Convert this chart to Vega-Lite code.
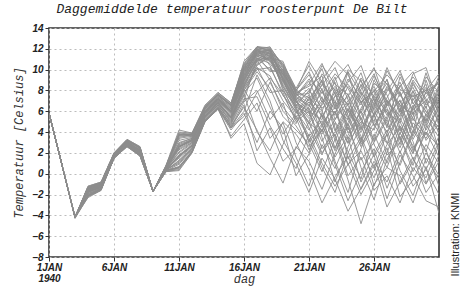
{
"$schema":"https://vega.github.io/schema/vega-lite/v6.json",
"width":390,"height":229,
"autosize":{"type":"none"},
"padding":{"left":49,"top":28,"right":21,"bottom":29},
"background":"white",
"title":{"text":"Daggemiddelde temperatuur roosterpunt De Bilt","font":"Liberation Mono","fontStyle":"italic","fontWeight":"normal","fontSize":13,"color":"#222","offset":7,"anchor":"middle","dx":-12},
"config":{"view":{"stroke":"#333","strokeWidth":1.6}},
"data":{"values":[
{"m":1,"d":1,"t":5.8},{"m":1,"d":2,"t":0.8},{"m":1,"d":3,"t":-4.2},{"m":1,"d":4,"t":-1.4},{"m":1,"d":5,"t":-1.0},{"m":1,"d":6,"t":1.8},{"m":1,"d":7,"t":3.1},{"m":1,"d":8,"t":2.2},{"m":1,"d":9,"t":-1.7},{"m":1,"d":10,"t":0.5},{"m":1,"d":11,"t":2.1},{"m":1,"d":12,"t":3.0},{"m":1,"d":13,"t":5.8},{"m":1,"d":14,"t":7.2},{"m":1,"d":15,"t":6.0},{"m":1,"d":16,"t":9.5},{"m":1,"d":17,"t":11.8},{"m":1,"d":18,"t":11.5},{"m":1,"d":19,"t":9.2},{"m":1,"d":20,"t":7.0},{"m":1,"d":21,"t":5.5},{"m":1,"d":22,"t":8.2},{"m":1,"d":23,"t":4.1},{"m":1,"d":24,"t":6.8},{"m":1,"d":25,"t":3.2},{"m":1,"d":26,"t":7.5},{"m":1,"d":27,"t":5.9},{"m":1,"d":28,"t":2.8},{"m":1,"d":29,"t":6.4},{"m":1,"d":30,"t":8.1},{"m":1,"d":31,"t":5.2},
{"m":2,"d":1,"t":5.8},{"m":2,"d":2,"t":0.8},{"m":2,"d":3,"t":-4.2},{"m":2,"d":4,"t":-1.8},{"m":2,"d":5,"t":-1.2},{"m":2,"d":6,"t":1.6},{"m":2,"d":7,"t":2.8},{"m":2,"d":8,"t":2.0},{"m":2,"d":9,"t":-1.7},{"m":2,"d":10,"t":0.4},{"m":2,"d":11,"t":1.2},{"m":2,"d":12,"t":2.5},{"m":2,"d":13,"t":5.4},{"m":2,"d":14,"t":6.8},{"m":2,"d":15,"t":5.6},{"m":2,"d":16,"t":8.8},{"m":2,"d":17,"t":11.2},{"m":2,"d":18,"t":12.0},{"m":2,"d":19,"t":9.8},{"m":2,"d":20,"t":7.4},{"m":2,"d":21,"t":8.9},{"m":2,"d":22,"t":6.1},{"m":2,"d":23,"t":2.5},{"m":2,"d":24,"t":4.9},{"m":2,"d":25,"t":7.8},{"m":2,"d":26,"t":6.2},{"m":2,"d":27,"t":9.1},{"m":2,"d":28,"t":4.4},{"m":2,"d":29,"t":1.9},{"m":2,"d":30,"t":5.8},{"m":2,"d":31,"t":7.5},
{"m":3,"d":1,"t":5.8},{"m":3,"d":2,"t":0.8},{"m":3,"d":3,"t":-4.1},{"m":3,"d":4,"t":-1.3},{"m":3,"d":5,"t":-0.9},{"m":3,"d":6,"t":1.9},{"m":3,"d":7,"t":3.2},{"m":3,"d":8,"t":2.4},{"m":3,"d":9,"t":-1.7},{"m":3,"d":10,"t":0.7},{"m":3,"d":11,"t":3.8},{"m":3,"d":12,"t":3.6},{"m":3,"d":13,"t":6.2},{"m":3,"d":14,"t":7.6},{"m":3,"d":15,"t":6.5},{"m":3,"d":16,"t":10.2},{"m":3,"d":17,"t":12.1},{"m":3,"d":18,"t":11.8},{"m":3,"d":19,"t":10.1},{"m":3,"d":20,"t":7.8},{"m":3,"d":21,"t":6.2},{"m":3,"d":22,"t":4.0},{"m":3,"d":23,"t":7.5},{"m":3,"d":24,"t":9.8},{"m":3,"d":25,"t":5.1},{"m":3,"d":26,"t":3.3},{"m":3,"d":27,"t":6.8},{"m":3,"d":28,"t":7.9},{"m":3,"d":29,"t":4.5},{"m":3,"d":30,"t":2.1},{"m":3,"d":31,"t":6.0},
{"m":4,"d":1,"t":5.8},{"m":4,"d":2,"t":0.8},{"m":4,"d":3,"t":-4.3},{"m":4,"d":4,"t":-2.2},{"m":4,"d":5,"t":-1.5},{"m":4,"d":6,"t":1.5},{"m":4,"d":7,"t":2.6},{"m":4,"d":8,"t":1.8},{"m":4,"d":9,"t":-1.7},{"m":4,"d":10,"t":0.3},{"m":4,"d":11,"t":0.6},{"m":4,"d":12,"t":2.1},{"m":4,"d":13,"t":5.1},{"m":4,"d":14,"t":6.4},{"m":4,"d":15,"t":4.8},{"m":4,"d":16,"t":7.5},{"m":4,"d":17,"t":10.5},{"m":4,"d":18,"t":11.2},{"m":4,"d":19,"t":8.6},{"m":4,"d":20,"t":6.3},{"m":4,"d":21,"t":3.1},{"m":4,"d":22,"t":5.7},{"m":4,"d":23,"t":1.2},{"m":4,"d":24,"t":-1.8},{"m":4,"d":25,"t":2.4},{"m":4,"d":26,"t":5.6},{"m":4,"d":27,"t":3.0},{"m":4,"d":28,"t":0.8},{"m":4,"d":29,"t":3.9},{"m":4,"d":30,"t":6.5},{"m":4,"d":31,"t":2.2},
{"m":5,"d":1,"t":5.8},{"m":5,"d":2,"t":0.8},{"m":5,"d":3,"t":-4.2},{"m":5,"d":4,"t":-1.6},{"m":5,"d":5,"t":-1.1},{"m":5,"d":6,"t":1.7},{"m":5,"d":7,"t":3.0},{"m":5,"d":8,"t":2.1},{"m":5,"d":9,"t":-1.7},{"m":5,"d":10,"t":0.5},{"m":5,"d":11,"t":2.6},{"m":5,"d":12,"t":3.2},{"m":5,"d":13,"t":5.9},{"m":5,"d":14,"t":7.0},{"m":5,"d":15,"t":5.9},{"m":5,"d":16,"t":9.1},{"m":5,"d":17,"t":11.5},{"m":5,"d":18,"t":10.9},{"m":5,"d":19,"t":9.0},{"m":5,"d":20,"t":6.8},{"m":5,"d":21,"t":7.9},{"m":5,"d":22,"t":10.1},{"m":5,"d":23,"t":6.3},{"m":5,"d":24,"t":5.2},{"m":5,"d":25,"t":8.6},{"m":5,"d":26,"t":4.7},{"m":5,"d":27,"t":2.9},{"m":5,"d":28,"t":6.1},{"m":5,"d":29,"t":9.0},{"m":5,"d":30,"t":7.2},{"m":5,"d":31,"t":3.8},
{"m":6,"d":1,"t":5.8},{"m":6,"d":2,"t":0.8},{"m":6,"d":3,"t":-4.2},{"m":6,"d":4,"t":-2.0},{"m":6,"d":5,"t":-1.4},{"m":6,"d":6,"t":1.6},{"m":6,"d":7,"t":2.7},{"m":6,"d":8,"t":1.9},{"m":6,"d":9,"t":-1.7},{"m":6,"d":10,"t":0.2},{"m":6,"d":11,"t":0.4},{"m":6,"d":12,"t":2.0},{"m":6,"d":13,"t":5.0},{"m":6,"d":14,"t":6.2},{"m":6,"d":15,"t":3.6},{"m":6,"d":16,"t":5.2},{"m":6,"d":17,"t":6.8},{"m":6,"d":18,"t":3.4},{"m":6,"d":19,"t":4.9},{"m":6,"d":20,"t":1.6},{"m":6,"d":21,"t":-1.2},{"m":6,"d":22,"t":2.8},{"m":6,"d":23,"t":0.5},{"m":6,"d":24,"t":3.5},{"m":6,"d":25,"t":-0.8},{"m":6,"d":26,"t":1.9},{"m":6,"d":27,"t":4.2},{"m":6,"d":28,"t":0.3},{"m":6,"d":29,"t":-2.1},{"m":6,"d":30,"t":1.5},{"m":6,"d":31,"t":-0.5},
{"m":7,"d":1,"t":5.8},{"m":7,"d":2,"t":0.8},{"m":7,"d":3,"t":-4.2},{"m":7,"d":4,"t":-1.2},{"m":7,"d":5,"t":-0.8},{"m":7,"d":6,"t":2.0},{"m":7,"d":7,"t":3.3},{"m":7,"d":8,"t":2.6},{"m":7,"d":9,"t":-1.7},{"m":7,"d":10,"t":0.8},{"m":7,"d":11,"t":4.2},{"m":7,"d":12,"t":3.9},{"m":7,"d":13,"t":6.5},{"m":7,"d":14,"t":7.8},{"m":7,"d":15,"t":6.8},{"m":7,"d":16,"t":10.5},{"m":7,"d":17,"t":12.2},{"m":7,"d":18,"t":12.1},{"m":7,"d":19,"t":10.4},{"m":7,"d":20,"t":8.0},{"m":7,"d":21,"t":9.5},{"m":7,"d":22,"t":7.2},{"m":7,"d":23,"t":5.8},{"m":7,"d":24,"t":8.4},{"m":7,"d":25,"t":6.6},{"m":7,"d":26,"t":9.4},{"m":7,"d":27,"t":7.0},{"m":7,"d":28,"t":5.5},{"m":7,"d":29,"t":8.8},{"m":7,"d":30,"t":6.3},{"m":7,"d":31,"t":9.4},
{"m":8,"d":1,"t":5.8},{"m":8,"d":2,"t":0.8},{"m":8,"d":3,"t":-4.2},{"m":8,"d":4,"t":-1.7},{"m":8,"d":5,"t":-1.3},{"m":8,"d":6,"t":1.8},{"m":8,"d":7,"t":2.9},{"m":8,"d":8,"t":2.3},{"m":8,"d":9,"t":-1.7},{"m":8,"d":10,"t":0.6},{"m":8,"d":11,"t":1.8},{"m":8,"d":12,"t":2.8},{"m":8,"d":13,"t":5.6},{"m":8,"d":14,"t":6.9},{"m":8,"d":15,"t":5.4},{"m":8,"d":16,"t":8.4},{"m":8,"d":17,"t":10.8},{"m":8,"d":18,"t":11.4},{"m":8,"d":19,"t":9.5},{"m":8,"d":20,"t":7.2},{"m":8,"d":21,"t":4.4},{"m":8,"d":22,"t":1.8},{"m":8,"d":23,"t":4.9},{"m":8,"d":24,"t":2.1},{"m":8,"d":25,"t":-0.5},{"m":8,"d":26,"t":3.8},{"m":8,"d":27,"t":1.0},{"m":8,"d":28,"t":4.6},{"m":8,"d":29,"t":2.7},{"m":8,"d":30,"t":0.4},{"m":8,"d":31,"t":3.1},
{"m":9,"d":1,"t":5.8},{"m":9,"d":2,"t":0.8},{"m":9,"d":3,"t":-4.1},{"m":9,"d":4,"t":-1.5},{"m":9,"d":5,"t":-1.1},{"m":9,"d":6,"t":1.7},{"m":9,"d":7,"t":3.1},{"m":9,"d":8,"t":2.2},{"m":9,"d":9,"t":-1.7},{"m":9,"d":10,"t":0.5},{"m":9,"d":11,"t":2.9},{"m":9,"d":12,"t":3.4},{"m":9,"d":13,"t":6.0},{"m":9,"d":14,"t":7.3},{"m":9,"d":15,"t":6.2},{"m":9,"d":16,"t":9.8},{"m":9,"d":17,"t":11.9},{"m":9,"d":18,"t":11.6},{"m":9,"d":19,"t":9.9},{"m":9,"d":20,"t":7.6},{"m":9,"d":21,"t":6.8},{"m":9,"d":22,"t":8.5},{"m":9,"d":23,"t":10.2},{"m":9,"d":24,"t":7.1},{"m":9,"d":25,"t":4.3},{"m":9,"d":26,"t":6.9},{"m":9,"d":27,"t":8.7},{"m":9,"d":28,"t":5.9},{"m":9,"d":29,"t":7.6},{"m":9,"d":30,"t":4.8},{"m":9,"d":31,"t":8.3},
{"m":10,"d":1,"t":5.8},{"m":10,"d":2,"t":0.8},{"m":10,"d":3,"t":-4.2},{"m":10,"d":4,"t":-1.9},{"m":10,"d":5,"t":-1.5},{"m":10,"d":6,"t":1.5},{"m":10,"d":7,"t":2.7},{"m":10,"d":8,"t":1.7},{"m":10,"d":9,"t":-1.7},{"m":10,"d":10,"t":0.3},{"m":10,"d":11,"t":0.9},{"m":10,"d":12,"t":2.3},{"m":10,"d":13,"t":5.2},{"m":10,"d":14,"t":6.5},{"m":10,"d":15,"t":4.6},{"m":10,"d":16,"t":6.4},{"m":10,"d":17,"t":4.2},{"m":10,"d":18,"t":1.5},{"m":10,"d":19,"t":-0.9},{"m":10,"d":20,"t":2.6},{"m":10,"d":21,"t":1.2},{"m":10,"d":22,"t":-1.5},{"m":10,"d":23,"t":1.9},{"m":10,"d":24,"t":4.8},{"m":10,"d":25,"t":0.6},{"m":10,"d":26,"t":-2.5},{"m":10,"d":27,"t":1.4},{"m":10,"d":28,"t":3.6},{"m":10,"d":29,"t":0.2},{"m":10,"d":30,"t":2.8},{"m":10,"d":31,"t":1.0},
{"m":11,"d":1,"t":5.8},{"m":11,"d":2,"t":0.8},{"m":11,"d":3,"t":-4.2},{"m":11,"d":4,"t":-1.4},{"m":11,"d":5,"t":-1.0},{"m":11,"d":6,"t":1.8},{"m":11,"d":7,"t":3.0},{"m":11,"d":8,"t":2.3},{"m":11,"d":9,"t":-1.7},{"m":11,"d":10,"t":0.6},{"m":11,"d":11,"t":3.2},{"m":11,"d":12,"t":3.5},{"m":11,"d":13,"t":6.1},{"m":11,"d":14,"t":7.4},{"m":11,"d":15,"t":6.3},{"m":11,"d":16,"t":10.0},{"m":11,"d":17,"t":11.7},{"m":11,"d":18,"t":11.9},{"m":11,"d":19,"t":9.4},{"m":11,"d":20,"t":7.1},{"m":11,"d":21,"t":8.2},{"m":11,"d":22,"t":5.4},{"m":11,"d":23,"t":7.9},{"m":11,"d":24,"t":3.9},{"m":11,"d":25,"t":6.1},{"m":11,"d":26,"t":8.0},{"m":11,"d":27,"t":4.4},{"m":11,"d":28,"t":9.3},{"m":11,"d":29,"t":6.8},{"m":11,"d":30,"t":5.0},{"m":11,"d":31,"t":7.0},
{"m":12,"d":1,"t":5.8},{"m":12,"d":2,"t":0.8},{"m":12,"d":3,"t":-4.2},{"m":12,"d":4,"t":-2.1},{"m":12,"d":5,"t":-1.6},{"m":12,"d":6,"t":1.6},{"m":12,"d":7,"t":2.8},{"m":12,"d":8,"t":1.9},{"m":12,"d":9,"t":-1.7},{"m":12,"d":10,"t":0.4},{"m":12,"d":11,"t":1.5},{"m":12,"d":12,"t":2.6},{"m":12,"d":13,"t":5.5},{"m":12,"d":14,"t":6.7},{"m":12,"d":15,"t":5.2},{"m":12,"d":16,"t":8.2},{"m":12,"d":17,"t":10.2},{"m":12,"d":18,"t":9.4},{"m":12,"d":19,"t":7.0},{"m":12,"d":20,"t":5.4},{"m":12,"d":21,"t":2.3},{"m":12,"d":22,"t":4.6},{"m":12,"d":23,"t":6.9},{"m":12,"d":24,"t":1.4},{"m":12,"d":25,"t":3.5},{"m":12,"d":26,"t":-1.2},{"m":12,"d":27,"t":2.0},{"m":12,"d":28,"t":5.3},{"m":12,"d":29,"t":3.1},{"m":12,"d":30,"t":-0.9},{"m":12,"d":31,"t":1.8},
{"m":13,"d":1,"t":5.8},{"m":13,"d":2,"t":0.8},{"m":13,"d":3,"t":-4.2},{"m":13,"d":4,"t":-1.3},{"m":13,"d":5,"t":-0.9},{"m":13,"d":6,"t":1.9},{"m":13,"d":7,"t":3.2},{"m":13,"d":8,"t":2.5},{"m":13,"d":9,"t":-1.7},{"m":13,"d":10,"t":0.7},{"m":13,"d":11,"t":3.6},{"m":13,"d":12,"t":3.7},{"m":13,"d":13,"t":6.3},{"m":13,"d":14,"t":7.5},{"m":13,"d":15,"t":6.6},{"m":13,"d":16,"t":10.3},{"m":13,"d":17,"t":12.0},{"m":13,"d":18,"t":11.7},{"m":13,"d":19,"t":10.6},{"m":13,"d":20,"t":8.2},{"m":13,"d":21,"t":10.4},{"m":13,"d":22,"t":8.0},{"m":13,"d":23,"t":6.2},{"m":13,"d":24,"t":9.1},{"m":13,"d":25,"t":7.3},{"m":13,"d":26,"t":5.0},{"m":13,"d":27,"t":8.2},{"m":13,"d":28,"t":6.6},{"m":13,"d":29,"t":4.0},{"m":13,"d":30,"t":9.0},{"m":13,"d":31,"t":5.6},
{"m":14,"d":1,"t":5.8},{"m":14,"d":2,"t":0.8},{"m":14,"d":3,"t":-4.2},{"m":14,"d":4,"t":-1.6},{"m":14,"d":5,"t":-1.2},{"m":14,"d":6,"t":1.7},{"m":14,"d":7,"t":2.9},{"m":14,"d":8,"t":2.1},{"m":14,"d":9,"t":-1.7},{"m":14,"d":10,"t":0.5},{"m":14,"d":11,"t":2.4},{"m":14,"d":12,"t":3.1},{"m":14,"d":13,"t":5.7},{"m":14,"d":14,"t":7.1},{"m":14,"d":15,"t":5.8},{"m":14,"d":16,"t":9.0},{"m":14,"d":17,"t":11.3},{"m":14,"d":18,"t":10.8},{"m":14,"d":19,"t":8.8},{"m":14,"d":20,"t":6.6},{"m":14,"d":21,"t":5.0},{"m":14,"d":22,"t":7.4},{"m":14,"d":23,"t":3.2},{"m":14,"d":24,"t":5.9},{"m":14,"d":25,"t":9.2},{"m":14,"d":26,"t":7.4},{"m":14,"d":27,"t":4.8},{"m":14,"d":28,"t":2.5},{"m":14,"d":29,"t":5.5},{"m":14,"d":30,"t":7.8},{"m":14,"d":31,"t":6.6},
{"m":15,"d":1,"t":5.8},{"m":15,"d":2,"t":0.8},{"m":15,"d":3,"t":-4.2},{"m":15,"d":4,"t":-1.8},{"m":15,"d":5,"t":-1.3},{"m":15,"d":6,"t":1.6},{"m":15,"d":7,"t":2.8},{"m":15,"d":8,"t":2.0},{"m":15,"d":9,"t":-1.7},{"m":15,"d":10,"t":0.4},{"m":15,"d":11,"t":1.0},{"m":15,"d":12,"t":2.4},{"m":15,"d":13,"t":5.3},{"m":15,"d":14,"t":6.6},{"m":15,"d":15,"t":4.9},{"m":15,"d":16,"t":7.8},{"m":15,"d":17,"t":9.2},{"m":15,"d":18,"t":6.4},{"m":15,"d":19,"t":3.8},{"m":15,"d":20,"t":5.8},{"m":15,"d":21,"t":7.6},{"m":15,"d":22,"t":3.5},{"m":15,"d":23,"t":-0.8},{"m":15,"d":24,"t":2.6},{"m":15,"d":25,"t":5.4},{"m":15,"d":26,"t":1.8},{"m":15,"d":27,"t":-2.4},{"m":15,"d":28,"t":1.1},{"m":15,"d":29,"t":4.1},{"m":15,"d":30,"t":2.3},{"m":15,"d":31,"t":-1.2},
{"m":16,"d":1,"t":5.8},{"m":16,"d":2,"t":0.8},{"m":16,"d":3,"t":-4.2},{"m":16,"d":4,"t":-1.5},{"m":16,"d":5,"t":-1.1},{"m":16,"d":6,"t":1.8},{"m":16,"d":7,"t":3.0},{"m":16,"d":8,"t":2.2},{"m":16,"d":9,"t":-1.7},{"m":16,"d":10,"t":0.6},{"m":16,"d":11,"t":2.7},{"m":16,"d":12,"t":3.3},{"m":16,"d":13,"t":5.9},{"m":16,"d":14,"t":7.2},{"m":16,"d":15,"t":6.1},{"m":16,"d":16,"t":9.6},{"m":16,"d":17,"t":11.6},{"m":16,"d":18,"t":11.3},{"m":16,"d":19,"t":9.7},{"m":16,"d":20,"t":7.3},{"m":16,"d":21,"t":6.5},{"m":16,"d":22,"t":9.6},{"m":16,"d":23,"t":8.0},{"m":16,"d":24,"t":6.0},{"m":16,"d":25,"t":4.0},{"m":16,"d":26,"t":6.4},{"m":16,"d":27,"t":9.9},{"m":16,"d":28,"t":7.7},{"m":16,"d":29,"t":5.3},{"m":16,"d":30,"t":3.7},{"m":16,"d":31,"t":6.8},
{"m":17,"d":1,"t":5.8},{"m":17,"d":2,"t":0.8},{"m":17,"d":3,"t":-4.2},{"m":17,"d":4,"t":-2.3},{"m":17,"d":5,"t":-1.6},{"m":17,"d":6,"t":1.5},{"m":17,"d":7,"t":2.6},{"m":17,"d":8,"t":1.7},{"m":17,"d":9,"t":-1.7},{"m":17,"d":10,"t":0.2},{"m":17,"d":11,"t":0.3},{"m":17,"d":12,"t":2.0},{"m":17,"d":13,"t":5.0},{"m":17,"d":14,"t":6.3},{"m":17,"d":15,"t":4.5},{"m":17,"d":16,"t":6.9},{"m":17,"d":17,"t":8.0},{"m":17,"d":18,"t":5.2},{"m":17,"d":19,"t":6.8},{"m":17,"d":20,"t":3.0},{"m":17,"d":21,"t":0.4},{"m":17,"d":22,"t":-2.8},{"m":17,"d":23,"t":-0.3},{"m":17,"d":24,"t":1.7},{"m":17,"d":25,"t":-1.5},{"m":17,"d":26,"t":0.9},{"m":17,"d":27,"t":-3.2},{"m":17,"d":28,"t":-0.8},{"m":17,"d":29,"t":1.6},{"m":17,"d":30,"t":-1.8},{"m":17,"d":31,"t":0.0},
{"m":18,"d":1,"t":5.8},{"m":18,"d":2,"t":0.8},{"m":18,"d":3,"t":-4.2},{"m":18,"d":4,"t":-1.4},{"m":18,"d":5,"t":-1.0},{"m":18,"d":6,"t":1.9},{"m":18,"d":7,"t":3.1},{"m":18,"d":8,"t":2.4},{"m":18,"d":9,"t":-1.7},{"m":18,"d":10,"t":0.6},{"m":18,"d":11,"t":3.4},{"m":18,"d":12,"t":3.6},{"m":18,"d":13,"t":6.2},{"m":18,"d":14,"t":7.4},{"m":18,"d":15,"t":6.4},{"m":18,"d":16,"t":10.1},{"m":18,"d":17,"t":11.9},{"m":18,"d":18,"t":12.2},{"m":18,"d":19,"t":10.2},{"m":18,"d":20,"t":7.9},{"m":18,"d":21,"t":7.3},{"m":18,"d":22,"t":6.0},{"m":18,"d":23,"t":9.0},{"m":18,"d":24,"t":10.5},{"m":18,"d":25,"t":7.9},{"m":18,"d":26,"t":5.7},{"m":18,"d":27,"t":7.3},{"m":18,"d":28,"t":9.6},{"m":18,"d":29,"t":7.1},{"m":18,"d":30,"t":8.6},{"m":18,"d":31,"t":4.6},
{"m":19,"d":1,"t":5.8},{"m":19,"d":2,"t":0.8},{"m":19,"d":3,"t":-4.2},{"m":19,"d":4,"t":-1.7},{"m":19,"d":5,"t":-1.2},{"m":19,"d":6,"t":1.7},{"m":19,"d":7,"t":2.9},{"m":19,"d":8,"t":2.1},{"m":19,"d":9,"t":-1.7},{"m":19,"d":10,"t":0.5},{"m":19,"d":11,"t":2.0},{"m":19,"d":12,"t":2.9},{"m":19,"d":13,"t":5.6},{"m":19,"d":14,"t":6.9},{"m":19,"d":15,"t":5.5},{"m":19,"d":16,"t":8.6},{"m":19,"d":17,"t":11.0},{"m":19,"d":18,"t":11.1},{"m":19,"d":19,"t":9.1},{"m":19,"d":20,"t":6.9},{"m":19,"d":21,"t":5.9},{"m":19,"d":22,"t":3.1},{"m":19,"d":23,"t":5.2},{"m":19,"d":24,"t":7.7},{"m":19,"d":25,"t":2.8},{"m":19,"d":26,"t":4.9},{"m":19,"d":27,"t":6.2},{"m":19,"d":28,"t":3.4},{"m":19,"d":29,"t":0.8},{"m":19,"d":30,"t":4.4},{"m":19,"d":31,"t":8.0},
{"m":20,"d":1,"t":5.8},{"m":20,"d":2,"t":0.8},{"m":20,"d":3,"t":-4.2},{"m":20,"d":4,"t":-1.9},{"m":20,"d":5,"t":-1.4},{"m":20,"d":6,"t":1.6},{"m":20,"d":7,"t":2.7},{"m":20,"d":8,"t":1.9},{"m":20,"d":9,"t":-1.7},{"m":20,"d":10,"t":0.3},{"m":20,"d":11,"t":1.3},{"m":20,"d":12,"t":2.5},{"m":20,"d":13,"t":5.3},{"m":20,"d":14,"t":6.6},{"m":20,"d":15,"t":5.0},{"m":20,"d":16,"t":8.0},{"m":20,"d":17,"t":9.8},{"m":20,"d":18,"t":8.2},{"m":20,"d":19,"t":5.5},{"m":20,"d":20,"t":4.2},{"m":20,"d":21,"t":2.9},{"m":20,"d":22,"t":0.2},{"m":20,"d":23,"t":3.3},{"m":20,"d":24,"t":-0.6},{"m":20,"d":25,"t":-4.8},{"m":20,"d":26,"t":-1.0},{"m":20,"d":27,"t":0.6},{"m":20,"d":28,"t":-0.2},{"m":20,"d":29,"t":-2.8},{"m":20,"d":30,"t":0.7},{"m":20,"d":31,"t":-3.8},
{"m":21,"d":1,"t":5.8},{"m":21,"d":2,"t":0.8},{"m":21,"d":3,"t":-4.2},{"m":21,"d":4,"t":-1.3},{"m":21,"d":5,"t":-0.9},{"m":21,"d":6,"t":1.9},{"m":21,"d":7,"t":3.2},{"m":21,"d":8,"t":2.5},{"m":21,"d":9,"t":-1.7},{"m":21,"d":10,"t":0.7},{"m":21,"d":11,"t":3.9},{"m":21,"d":12,"t":3.8},{"m":21,"d":13,"t":6.4},{"m":21,"d":14,"t":7.7},{"m":21,"d":15,"t":6.7},{"m":21,"d":16,"t":10.4},{"m":21,"d":17,"t":12.1},{"m":21,"d":18,"t":11.9},{"m":21,"d":19,"t":10.3},{"m":21,"d":20,"t":7.7},{"m":21,"d":21,"t":8.6},{"m":21,"d":22,"t":10.6},{"m":21,"d":23,"t":7.6},{"m":21,"d":24,"t":5.4},{"m":21,"d":25,"t":8.1},{"m":21,"d":26,"t":10.2},{"m":21,"d":27,"t":6.5},{"m":21,"d":28,"t":8.4},{"m":21,"d":29,"t":9.8},{"m":21,"d":30,"t":6.9},{"m":21,"d":31,"t":9.0},
{"m":22,"d":1,"t":5.8},{"m":22,"d":2,"t":0.8},{"m":22,"d":3,"t":-4.2},{"m":22,"d":4,"t":-1.6},{"m":22,"d":5,"t":-1.1},{"m":22,"d":6,"t":1.8},{"m":22,"d":7,"t":3.0},{"m":22,"d":8,"t":2.2},{"m":22,"d":9,"t":-1.7},{"m":22,"d":10,"t":0.5},{"m":22,"d":11,"t":2.5},{"m":22,"d":12,"t":3.2},{"m":22,"d":13,"t":5.8},{"m":22,"d":14,"t":7.1},{"m":22,"d":15,"t":5.9},{"m":22,"d":16,"t":9.3},{"m":22,"d":17,"t":11.4},{"m":22,"d":18,"t":11.0},{"m":22,"d":19,"t":9.3},{"m":22,"d":20,"t":7.0},{"m":22,"d":21,"t":4.8},{"m":22,"d":22,"t":6.6},{"m":22,"d":23,"t":8.8},{"m":22,"d":24,"t":4.2},{"m":22,"d":25,"t":7.0},{"m":22,"d":26,"t":3.1},{"m":22,"d":27,"t":5.5},{"m":22,"d":28,"t":7.1},{"m":22,"d":29,"t":3.3},{"m":22,"d":30,"t":5.7},{"m":22,"d":31,"t":4.1},
{"m":23,"d":1,"t":5.8},{"m":23,"d":2,"t":0.8},{"m":23,"d":3,"t":-4.2},{"m":23,"d":4,"t":-2.0},{"m":23,"d":5,"t":-1.5},{"m":23,"d":6,"t":1.5},{"m":23,"d":7,"t":2.7},{"m":23,"d":8,"t":1.8},{"m":23,"d":9,"t":-1.7},{"m":23,"d":10,"t":0.3},{"m":23,"d":11,"t":0.7},{"m":23,"d":12,"t":2.2},{"m":23,"d":13,"t":5.1},{"m":23,"d":14,"t":6.4},{"m":23,"d":15,"t":4.7},{"m":23,"d":16,"t":7.2},{"m":23,"d":17,"t":7.4},{"m":23,"d":18,"t":4.6},{"m":23,"d":19,"t":2.4},{"m":23,"d":20,"t":0.5},{"m":23,"d":21,"t":3.8},{"m":23,"d":22,"t":1.0},{"m":23,"d":23,"t":-1.2},{"m":23,"d":24,"t":0.9},{"m":23,"d":25,"t":2.2},{"m":23,"d":26,"t":-0.4},{"m":23,"d":27,"t":2.5},{"m":23,"d":28,"t":-2.2},{"m":23,"d":29,"t":-0.6},{"m":23,"d":30,"t":2.0},{"m":23,"d":31,"t":-0.2},
{"m":24,"d":1,"t":5.8},{"m":24,"d":2,"t":0.8},{"m":24,"d":3,"t":-4.2},{"m":24,"d":4,"t":-1.5},{"m":24,"d":5,"t":-1.0},{"m":24,"d":6,"t":1.8},{"m":24,"d":7,"t":3.1},{"m":24,"d":8,"t":2.3},{"m":24,"d":9,"t":-1.7},{"m":24,"d":10,"t":0.6},{"m":24,"d":11,"t":3.0},{"m":24,"d":12,"t":3.4},{"m":24,"d":13,"t":6.0},{"m":24,"d":14,"t":7.3},{"m":24,"d":15,"t":6.2},{"m":24,"d":16,"t":9.9},{"m":24,"d":17,"t":11.8},{"m":24,"d":18,"t":11.6},{"m":24,"d":19,"t":9.6},{"m":24,"d":20,"t":7.5},{"m":24,"d":21,"t":9.1},{"m":24,"d":22,"t":7.7},{"m":24,"d":23,"t":9.6},{"m":24,"d":24,"t":8.2},{"m":24,"d":25,"t":5.8},{"m":24,"d":26,"t":8.7},{"m":24,"d":27,"t":7.6},{"m":24,"d":28,"t":4.1},{"m":24,"d":29,"t":6.2},{"m":24,"d":30,"t":9.3},{"m":24,"d":31,"t":7.8},
{"m":25,"d":1,"t":5.8},{"m":25,"d":2,"t":0.8},{"m":25,"d":3,"t":-4.2},{"m":25,"d":4,"t":-1.7},{"m":25,"d":5,"t":-1.3},{"m":25,"d":6,"t":1.7},{"m":25,"d":7,"t":2.9},{"m":25,"d":8,"t":2.1},{"m":25,"d":9,"t":-1.7},{"m":25,"d":10,"t":0.4},{"m":25,"d":11,"t":1.6},{"m":25,"d":12,"t":2.7},{"m":25,"d":13,"t":5.5},{"m":25,"d":14,"t":6.8},{"m":25,"d":15,"t":5.3},{"m":25,"d":16,"t":8.5},{"m":25,"d":17,"t":10.9},{"m":25,"d":18,"t":11.0},{"m":25,"d":19,"t":8.4},{"m":25,"d":20,"t":6.1},{"m":25,"d":21,"t":3.6},{"m":25,"d":22,"t":5.1},{"m":25,"d":23,"t":2.2},{"m":25,"d":24,"t":4.5},{"m":25,"d":25,"t":1.3},{"m":25,"d":26,"t":3.0},{"m":25,"d":27,"t":5.2},{"m":25,"d":28,"t":2.0},{"m":25,"d":29,"t":4.9},{"m":25,"d":30,"t":3.4},{"m":25,"d":31,"t":5.5},
{"m":26,"d":1,"t":5.8},{"m":26,"d":2,"t":0.8},{"m":26,"d":3,"t":-4.2},{"m":26,"d":4,"t":-1.2},{"m":26,"d":5,"t":-0.8},{"m":26,"d":6,"t":2.0},{"m":26,"d":7,"t":3.3},{"m":26,"d":8,"t":2.6},{"m":26,"d":9,"t":-1.7},{"m":26,"d":10,"t":0.8},{"m":26,"d":11,"t":4.0},{"m":26,"d":12,"t":3.9},{"m":26,"d":13,"t":6.6},{"m":26,"d":14,"t":7.8},{"m":26,"d":15,"t":6.8},{"m":26,"d":16,"t":10.6},{"m":26,"d":17,"t":12.2},{"m":26,"d":18,"t":12.0},{"m":26,"d":19,"t":10.5},{"m":26,"d":20,"t":8.1},{"m":26,"d":21,"t":7.0},{"m":26,"d":22,"t":9.0},{"m":26,"d":23,"t":10.8},{"m":26,"d":24,"t":9.5},{"m":26,"d":25,"t":6.9},{"m":26,"d":26,"t":7.9},{"m":26,"d":27,"t":9.5},{"m":26,"d":28,"t":8.1},{"m":26,"d":29,"t":7.4},{"m":26,"d":30,"t":8.0},{"m":26,"d":31,"t":9.6},
{"m":27,"d":1,"t":5.8},{"m":27,"d":2,"t":0.8},{"m":27,"d":3,"t":-4.2},{"m":27,"d":4,"t":-1.8},{"m":27,"d":5,"t":-1.4},{"m":27,"d":6,"t":1.6},{"m":27,"d":7,"t":2.8},{"m":27,"d":8,"t":2.0},{"m":27,"d":9,"t":-1.7},{"m":27,"d":10,"t":0.4},{"m":27,"d":11,"t":1.1},{"m":27,"d":12,"t":2.4},{"m":27,"d":13,"t":5.4},{"m":27,"d":14,"t":6.6},{"m":27,"d":15,"t":5.1},{"m":27,"d":16,"t":8.3},{"m":27,"d":17,"t":10.0},{"m":27,"d":18,"t":10.2},{"m":27,"d":19,"t":7.8},{"m":27,"d":20,"t":5.0},{"m":27,"d":21,"t":6.0},{"m":27,"d":22,"t":2.4},{"m":27,"d":23,"t":4.0},{"m":27,"d":24,"t":6.3},{"m":27,"d":25,"t":3.6},{"m":27,"d":26,"t":0.5},{"m":27,"d":27,"t":3.9},{"m":27,"d":28,"t":6.3},{"m":27,"d":29,"t":2.4},{"m":27,"d":30,"t":4.0},{"m":27,"d":31,"t":1.6},
{"m":28,"d":1,"t":5.8},{"m":28,"d":2,"t":0.8},{"m":28,"d":3,"t":-4.2},{"m":28,"d":4,"t":-1.4},{"m":28,"d":5,"t":-1.0},{"m":28,"d":6,"t":1.8},{"m":28,"d":7,"t":3.0},{"m":28,"d":8,"t":2.3},{"m":28,"d":9,"t":-1.7},{"m":28,"d":10,"t":0.6},{"m":28,"d":11,"t":2.8},{"m":28,"d":12,"t":3.3},{"m":28,"d":13,"t":6.0},{"m":28,"d":14,"t":7.2},{"m":28,"d":15,"t":6.0},{"m":28,"d":16,"t":9.7},{"m":28,"d":17,"t":11.6},{"m":28,"d":18,"t":11.4},{"m":28,"d":19,"t":9.6},{"m":28,"d":20,"t":7.4},{"m":28,"d":21,"t":6.6},{"m":28,"d":22,"t":4.8},{"m":28,"d":23,"t":6.4},{"m":28,"d":24,"t":7.4},{"m":28,"d":25,"t":9.7},{"m":28,"d":26,"t":6.0},{"m":28,"d":27,"t":4.0},{"m":28,"d":28,"t":6.8},{"m":28,"d":29,"t":8.3},{"m":28,"d":30,"t":5.6},{"m":28,"d":31,"t":7.2},
{"m":29,"d":1,"t":5.8},{"m":29,"d":2,"t":0.8},{"m":29,"d":3,"t":-4.2},{"m":29,"d":4,"t":-2.2},{"m":29,"d":5,"t":-1.6},{"m":29,"d":6,"t":1.5},{"m":29,"d":7,"t":2.6},{"m":29,"d":8,"t":1.7},{"m":29,"d":9,"t":-1.7},{"m":29,"d":10,"t":0.2},{"m":29,"d":11,"t":0.5},{"m":29,"d":12,"t":2.1},{"m":29,"d":13,"t":5.0},{"m":29,"d":14,"t":6.2},{"m":29,"d":15,"t":4.2},{"m":29,"d":16,"t":5.8},{"m":29,"d":17,"t":3.0},{"m":29,"d":18,"t":6.0},{"m":29,"d":19,"t":4.4},{"m":29,"d":20,"t":-0.2},{"m":29,"d":21,"t":1.9},{"m":29,"d":22,"t":4.3},{"m":29,"d":23,"t":0.9},{"m":29,"d":24,"t":-2.6},{"m":29,"d":25,"t":0.2},{"m":29,"d":26,"t":2.4},{"m":29,"d":27,"t":-1.4},{"m":29,"d":28,"t":1.8},{"m":29,"d":29,"t":-0.2},{"m":29,"d":30,"t":-2.6},{"m":29,"d":31,"t":-3.2},
{"m":30,"d":1,"t":5.8},{"m":30,"d":2,"t":0.8},{"m":30,"d":3,"t":-4.2},{"m":30,"d":4,"t":-1.6},{"m":30,"d":5,"t":-1.2},{"m":30,"d":6,"t":1.7},{"m":30,"d":7,"t":2.9},{"m":30,"d":8,"t":2.2},{"m":30,"d":9,"t":-1.7},{"m":30,"d":10,"t":0.5},{"m":30,"d":11,"t":2.3},{"m":30,"d":12,"t":3.0},{"m":30,"d":13,"t":5.7},{"m":30,"d":14,"t":7.0},{"m":30,"d":15,"t":5.7},{"m":30,"d":16,"t":8.9},{"m":30,"d":17,"t":11.1},{"m":30,"d":18,"t":10.6},{"m":30,"d":19,"t":8.9},{"m":30,"d":20,"t":6.7},{"m":30,"d":21,"t":5.3},{"m":30,"d":22,"t":7.0},{"m":30,"d":23,"t":5.0},{"m":30,"d":24,"t":3.0},{"m":30,"d":25,"t":6.3},{"m":30,"d":26,"t":8.4},{"m":30,"d":27,"t":5.9},{"m":30,"d":28,"t":4.9},{"m":30,"d":29,"t":7.9},{"m":30,"d":30,"t":6.0},{"m":30,"d":31,"t":4.4},
{"m":31,"d":1,"t":5.8},{"m":31,"d":2,"t":0.8},{"m":31,"d":3,"t":-4.2},{"m":31,"d":4,"t":-1.7},{"m":31,"d":5,"t":-1.3},{"m":31,"d":6,"t":1.7},{"m":31,"d":7,"t":2.9},{"m":31,"d":8,"t":2.0},{"m":31,"d":9,"t":-1.7},{"m":31,"d":10,"t":0.4},{"m":31,"d":11,"t":1.7},{"m":31,"d":12,"t":2.7},{"m":31,"d":13,"t":5.5},{"m":31,"d":14,"t":6.8},{"m":31,"d":15,"t":5.4},{"m":31,"d":16,"t":7.0},{"m":31,"d":17,"t":11.0},{"m":31,"d":18,"t":11.6},{"m":31,"d":19,"t":8.0},{"m":31,"d":20,"t":5.8},{"m":31,"d":21,"t":7.2},{"m":31,"d":22,"t":9.0},{"m":31,"d":23,"t":6.5},{"m":31,"d":24,"t":8.8},{"m":31,"d":25,"t":10.4},{"m":31,"d":26,"t":7.0},{"m":31,"d":27,"t":5.2},{"m":31,"d":28,"t":8.5},{"m":31,"d":29,"t":6.1},{"m":31,"d":30,"t":7.4},{"m":31,"d":31,"t":8.9},
{"m":32,"d":1,"t":5.8},{"m":32,"d":2,"t":0.8},{"m":32,"d":3,"t":-4.2},{"m":32,"d":4,"t":-1.5},{"m":32,"d":5,"t":-1.1},{"m":32,"d":6,"t":1.8},{"m":32,"d":7,"t":3.0},{"m":32,"d":8,"t":2.2},{"m":32,"d":9,"t":-1.7},{"m":32,"d":10,"t":0.5},{"m":32,"d":11,"t":2.6},{"m":32,"d":12,"t":3.2},{"m":32,"d":13,"t":5.9},{"m":32,"d":14,"t":7.2},{"m":32,"d":15,"t":6.0},{"m":32,"d":16,"t":9.2},{"m":32,"d":17,"t":12.0},{"m":32,"d":18,"t":10.4},{"m":32,"d":19,"t":7.5},{"m":32,"d":20,"t":6.0},{"m":32,"d":21,"t":4.2},{"m":32,"d":22,"t":6.8},{"m":32,"d":23,"t":9.3},{"m":32,"d":24,"t":5.6},{"m":32,"d":25,"t":3.0},{"m":32,"d":26,"t":5.8},{"m":32,"d":27,"t":8.4},{"m":32,"d":28,"t":6.4},{"m":32,"d":29,"t":3.6},{"m":32,"d":30,"t":6.9},{"m":32,"d":31,"t":5.0},
{"m":33,"d":1,"t":5.8},{"m":33,"d":2,"t":0.8},{"m":33,"d":3,"t":-4.2},{"m":33,"d":4,"t":-2.1},{"m":33,"d":5,"t":-1.5},{"m":33,"d":6,"t":1.5},{"m":33,"d":7,"t":2.7},{"m":33,"d":8,"t":1.8},{"m":33,"d":9,"t":-1.7},{"m":33,"d":10,"t":0.3},{"m":33,"d":11,"t":0.6},{"m":33,"d":12,"t":2.1},{"m":33,"d":13,"t":5.1},{"m":33,"d":14,"t":6.3},{"m":33,"d":15,"t":3.4},{"m":33,"d":16,"t":4.8},{"m":33,"d":17,"t":1.0},{"m":33,"d":18,"t":-0.1},{"m":33,"d":19,"t":2.8},{"m":33,"d":20,"t":5.6},{"m":33,"d":21,"t":3.4},{"m":33,"d":22,"t":0.6},{"m":33,"d":23,"t":-1.8},{"m":33,"d":24,"t":2.0},{"m":33,"d":25,"t":4.6},{"m":33,"d":26,"t":1.6},{"m":33,"d":27,"t":3.8},{"m":33,"d":28,"t":-1.0},{"m":33,"d":29,"t":1.2},{"m":33,"d":30,"t":4.0},{"m":33,"d":31,"t":2.6},
{"m":34,"d":1,"t":5.8},{"m":34,"d":2,"t":0.8},{"m":34,"d":3,"t":-4.2},{"m":34,"d":4,"t":-1.3},{"m":34,"d":5,"t":-0.9},{"m":34,"d":6,"t":1.9},{"m":34,"d":7,"t":3.2},{"m":34,"d":8,"t":2.5},{"m":34,"d":9,"t":-1.7},{"m":34,"d":10,"t":0.7},{"m":34,"d":11,"t":3.7},{"m":34,"d":12,"t":3.8},{"m":34,"d":13,"t":6.4},{"m":34,"d":14,"t":7.6},{"m":34,"d":15,"t":6.6},{"m":34,"d":16,"t":10.0},{"m":34,"d":17,"t":11.4},{"m":34,"d":18,"t":9.8},{"m":34,"d":19,"t":10.0},{"m":34,"d":20,"t":7.2},{"m":34,"d":21,"t":6.1},{"m":34,"d":22,"t":8.6},{"m":34,"d":23,"t":7.0},{"m":34,"d":24,"t":4.6},{"m":34,"d":25,"t":7.5},{"m":34,"d":26,"t":9.6},{"m":34,"d":27,"t":6.3},{"m":34,"d":28,"t":3.8},{"m":34,"d":29,"t":7.2},{"m":34,"d":30,"t":5.1},{"m":34,"d":31,"t":8.6},
{"m":35,"d":1,"t":5.8},{"m":35,"d":2,"t":0.8},{"m":35,"d":3,"t":-4.2},{"m":35,"d":4,"t":-1.7},{"m":35,"d":5,"t":-1.3},{"m":35,"d":6,"t":1.7},{"m":35,"d":7,"t":2.9},{"m":35,"d":8,"t":2.0},{"m":35,"d":9,"t":-1.7},{"m":35,"d":10,"t":0.4},{"m":35,"d":11,"t":1.7},{"m":35,"d":12,"t":2.7},{"m":35,"d":13,"t":5.5},{"m":35,"d":14,"t":6.8},{"m":35,"d":15,"t":5.4},{"m":35,"d":16,"t":8.1},{"m":35,"d":17,"t":6.0},{"m":35,"d":18,"t":8.8},{"m":35,"d":19,"t":6.4},{"m":35,"d":20,"t":4.8},{"m":35,"d":21,"t":7.4},{"m":35,"d":22,"t":4.6},{"m":35,"d":23,"t":2.4},{"m":35,"d":24,"t":5.4},{"m":35,"d":25,"t":2.6},{"m":35,"d":26,"t":4.4},{"m":35,"d":27,"t":7.1},{"m":35,"d":28,"t":5.0},{"m":35,"d":29,"t":2.2},{"m":35,"d":30,"t":5.3},{"m":35,"d":31,"t":3.5},
{"m":36,"d":1,"t":5.8},{"m":36,"d":2,"t":0.8},{"m":36,"d":3,"t":-4.2},{"m":36,"d":4,"t":-1.5},{"m":36,"d":5,"t":-1.1},{"m":36,"d":6,"t":1.8},{"m":36,"d":7,"t":3.0},{"m":36,"d":8,"t":2.2},{"m":36,"d":9,"t":-1.7},{"m":36,"d":10,"t":0.5},{"m":36,"d":11,"t":2.6},{"m":36,"d":12,"t":3.2},{"m":36,"d":13,"t":5.9},{"m":36,"d":14,"t":7.2},{"m":36,"d":15,"t":6.0},{"m":36,"d":16,"t":9.4},{"m":36,"d":17,"t":11.7},{"m":36,"d":18,"t":11.5},{"m":36,"d":19,"t":8.4},{"m":36,"d":20,"t":6.4},{"m":36,"d":21,"t":5.8},{"m":36,"d":22,"t":7.9},{"m":36,"d":23,"t":5.6},{"m":36,"d":24,"t":9.8},{"m":36,"d":25,"t":7.7},{"m":36,"d":26,"t":4.6},{"m":36,"d":27,"t":6.6},{"m":36,"d":28,"t":8.8},{"m":36,"d":29,"t":5.8},{"m":36,"d":30,"t":7.1},{"m":36,"d":31,"t":6.2},
{"m":37,"d":1,"t":5.8},{"m":37,"d":2,"t":0.8},{"m":37,"d":3,"t":-4.2},{"m":37,"d":4,"t":-2.1},{"m":37,"d":5,"t":-1.5},{"m":37,"d":6,"t":1.5},{"m":37,"d":7,"t":2.7},{"m":37,"d":8,"t":1.8},{"m":37,"d":9,"t":-1.7},{"m":37,"d":10,"t":0.3},{"m":37,"d":11,"t":0.6},{"m":37,"d":12,"t":2.1},{"m":37,"d":13,"t":5.1},{"m":37,"d":14,"t":6.3},{"m":37,"d":15,"t":4.4},{"m":37,"d":16,"t":6.0},{"m":37,"d":17,"t":9.5},{"m":37,"d":18,"t":7.0},{"m":37,"d":19,"t":3.2},{"m":37,"d":20,"t":1.0},{"m":37,"d":21,"t":-1.8},{"m":37,"d":22,"t":1.5},{"m":37,"d":23,"t":-0.5},{"m":37,"d":24,"t":-3.6},{"m":37,"d":25,"t":-1.4},{"m":37,"d":26,"t":1.2},{"m":37,"d":27,"t":-0.8},{"m":37,"d":28,"t":2.2},{"m":37,"d":29,"t":-1.2},{"m":37,"d":30,"t":0.4},{"m":37,"d":31,"t":-2.0},
{"m":38,"d":1,"t":5.8},{"m":38,"d":2,"t":0.8},{"m":38,"d":3,"t":-4.2},{"m":38,"d":4,"t":-1.3},{"m":38,"d":5,"t":-0.9},{"m":38,"d":6,"t":1.9},{"m":38,"d":7,"t":3.2},{"m":38,"d":8,"t":2.5},{"m":38,"d":9,"t":-1.7},{"m":38,"d":10,"t":0.7},{"m":38,"d":11,"t":3.7},{"m":38,"d":12,"t":3.8},{"m":38,"d":13,"t":6.4},{"m":38,"d":14,"t":7.6},{"m":38,"d":15,"t":6.6},{"m":38,"d":16,"t":10.2},{"m":38,"d":17,"t":12.0},{"m":38,"d":18,"t":11.2},{"m":38,"d":19,"t":10.0},{"m":38,"d":20,"t":7.9},{"m":38,"d":21,"t":10.8},{"m":38,"d":22,"t":8.8},{"m":38,"d":23,"t":6.8},{"m":38,"d":24,"t":10.0},{"m":38,"d":25,"t":8.9},{"m":38,"d":26,"t":6.6},{"m":38,"d":27,"t":10.2},{"m":38,"d":28,"t":7.4},{"m":38,"d":29,"t":9.3},{"m":38,"d":30,"t":7.7},{"m":38,"d":31,"t":8.7},
{"m":39,"d":1,"t":5.8},{"m":39,"d":2,"t":0.8},{"m":39,"d":3,"t":-4.2},{"m":39,"d":4,"t":-1.5},{"m":39,"d":5,"t":-1.1},{"m":39,"d":6,"t":1.8},{"m":39,"d":7,"t":3.0},{"m":39,"d":8,"t":2.2},{"m":39,"d":9,"t":-1.7},{"m":39,"d":10,"t":0.5},{"m":39,"d":11,"t":2.6},{"m":39,"d":12,"t":3.2},{"m":39,"d":13,"t":5.9},{"m":39,"d":14,"t":7.2},{"m":39,"d":15,"t":6.0},{"m":39,"d":16,"t":8.7},{"m":39,"d":17,"t":10.6},{"m":39,"d":18,"t":11.8},{"m":39,"d":19,"t":9.0},{"m":39,"d":20,"t":6.2},{"m":39,"d":21,"t":4.9},{"m":39,"d":22,"t":3.8},{"m":39,"d":23,"t":6.0},{"m":39,"d":24,"t":3.4},{"m":39,"d":25,"t":5.6},{"m":39,"d":26,"t":7.2},{"m":39,"d":27,"t":3.6},{"m":39,"d":28,"t":5.7},{"m":39,"d":29,"t":8.0},{"m":39,"d":30,"t":4.2},{"m":39,"d":31,"t":6.3},
{"m":40,"d":1,"t":5.8},{"m":40,"d":2,"t":0.8},{"m":40,"d":3,"t":-4.2},{"m":40,"d":4,"t":-1.7},{"m":40,"d":5,"t":-1.3},{"m":40,"d":6,"t":1.7},{"m":40,"d":7,"t":2.9},{"m":40,"d":8,"t":2.0},{"m":40,"d":9,"t":-1.7},{"m":40,"d":10,"t":0.4},{"m":40,"d":11,"t":1.7},{"m":40,"d":12,"t":2.7},{"m":40,"d":13,"t":5.5},{"m":40,"d":14,"t":6.8},{"m":40,"d":15,"t":5.4},{"m":40,"d":16,"t":7.6},{"m":40,"d":17,"t":4.0},{"m":40,"d":18,"t":2.2},{"m":40,"d":19,"t":5.0},{"m":40,"d":20,"t":3.8},{"m":40,"d":21,"t":2.0},{"m":40,"d":22,"t":5.9},{"m":40,"d":23,"t":3.6},{"m":40,"d":24,"t":1.0},{"m":40,"d":25,"t":-2.0},{"m":40,"d":26,"t":0.3},{"m":40,"d":27,"t":2.8},{"m":40,"d":28,"t":4.5},{"m":40,"d":29,"t":1.4},{"m":40,"d":30,"t":-0.4},{"m":40,"d":31,"t":2.8},
{"m":41,"d":1,"t":5.8},{"m":41,"d":2,"t":0.8},{"m":41,"d":3,"t":-4.2},{"m":41,"d":4,"t":-1.3},{"m":41,"d":5,"t":-0.9},{"m":41,"d":6,"t":1.9},{"m":41,"d":7,"t":3.2},{"m":41,"d":8,"t":2.5},{"m":41,"d":9,"t":-1.7},{"m":41,"d":10,"t":0.7},{"m":41,"d":11,"t":3.5},{"m":41,"d":12,"t":3.7},{"m":41,"d":13,"t":6.3},{"m":41,"d":14,"t":7.5},{"m":41,"d":15,"t":6.5},{"m":41,"d":16,"t":9.0},{"m":41,"d":17,"t":11.1},{"m":41,"d":18,"t":10.0},{"m":41,"d":19,"t":9.6},{"m":41,"d":20,"t":8.0},{"m":41,"d":21,"t":9.8},{"m":41,"d":22,"t":6.9},{"m":41,"d":23,"t":8.4},{"m":41,"d":24,"t":6.6},{"m":41,"d":25,"t":9.0},{"m":41,"d":26,"t":5.5},{"m":41,"d":27,"t":7.9},{"m":41,"d":28,"t":9.9},{"m":41,"d":29,"t":6.7},{"m":41,"d":30,"t":8.3},{"m":41,"d":31,"t":5.9},
{"m":42,"d":1,"t":5.8},{"m":42,"d":2,"t":0.8},{"m":42,"d":3,"t":-4.2},{"m":42,"d":4,"t":-1.3},{"m":42,"d":5,"t":-0.9},{"m":42,"d":6,"t":1.9},{"m":42,"d":7,"t":3.2},{"m":42,"d":8,"t":2.5},{"m":42,"d":9,"t":-1.7},{"m":42,"d":10,"t":0.7},{"m":42,"d":11,"t":3.8},{"m":42,"d":12,"t":3.8},{"m":42,"d":13,"t":6.4},{"m":42,"d":14,"t":7.6},{"m":42,"d":15,"t":6.6},{"m":42,"d":16,"t":10.8},{"m":42,"d":17,"t":12.2},{"m":42,"d":18,"t":11.8},{"m":42,"d":19,"t":9.2},{"m":42,"d":20,"t":6.9},{"m":42,"d":21,"t":6.0},{"m":42,"d":22,"t":5.2},{"m":42,"d":23,"t":8.2},{"m":42,"d":24,"t":6.5},{"m":42,"d":25,"t":4.6},{"m":42,"d":26,"t":9.0},{"m":42,"d":27,"t":6.9},{"m":42,"d":28,"t":5.2},{"m":42,"d":29,"t":8.6},{"m":42,"d":30,"t":6.6},{"m":42,"d":31,"t":7.7},
{"m":43,"d":1,"t":5.8},{"m":43,"d":2,"t":0.8},{"m":43,"d":3,"t":-4.2},{"m":43,"d":4,"t":-2.1},{"m":43,"d":5,"t":-1.5},{"m":43,"d":6,"t":1.5},{"m":43,"d":7,"t":2.7},{"m":43,"d":8,"t":1.8},{"m":43,"d":9,"t":-1.7},{"m":43,"d":10,"t":0.3},{"m":43,"d":11,"t":0.6},{"m":43,"d":12,"t":2.1},{"m":43,"d":13,"t":5.1},{"m":43,"d":14,"t":6.3},{"m":43,"d":15,"t":4.4},{"m":43,"d":16,"t":5.5},{"m":43,"d":17,"t":7.8},{"m":43,"d":18,"t":9.2},{"m":43,"d":19,"t":7.6},{"m":43,"d":20,"t":5.2},{"m":43,"d":21,"t":6.4},{"m":43,"d":22,"t":8.9},{"m":43,"d":23,"t":4.4},{"m":43,"d":24,"t":0.8},{"m":43,"d":25,"t":3.2},{"m":43,"d":26,"t":5.8},{"m":43,"d":27,"t":1.8},{"m":43,"d":28,"t":3.0},{"m":43,"d":29,"t":5.9},{"m":43,"d":30,"t":1.0},{"m":43,"d":31,"t":3.6},
{"m":44,"d":1,"t":5.8},{"m":44,"d":2,"t":0.8},{"m":44,"d":3,"t":-4.2},{"m":44,"d":4,"t":-1.5},{"m":44,"d":5,"t":-1.1},{"m":44,"d":6,"t":1.8},{"m":44,"d":7,"t":3.0},{"m":44,"d":8,"t":2.2},{"m":44,"d":9,"t":-1.7},{"m":44,"d":10,"t":0.5},{"m":44,"d":11,"t":2.6},{"m":44,"d":12,"t":3.2},{"m":44,"d":13,"t":5.9},{"m":44,"d":14,"t":7.2},{"m":44,"d":15,"t":6.0},{"m":44,"d":16,"t":9.8},{"m":44,"d":17,"t":11.5},{"m":44,"d":18,"t":11.1},{"m":44,"d":19,"t":10.8},{"m":44,"d":20,"t":7.6},{"m":44,"d":21,"t":7.7},{"m":44,"d":22,"t":10.4},{"m":44,"d":23,"t":8.6},{"m":44,"d":24,"t":7.6},{"m":44,"d":25,"t":5.2},{"m":44,"d":26,"t":7.6},{"m":44,"d":27,"t":9.0},{"m":44,"d":28,"t":6.0},{"m":44,"d":29,"t":9.6},{"m":44,"d":30,"t":10.2},{"m":44,"d":31,"t":6.4},
{"m":45,"d":1,"t":5.8},{"m":45,"d":2,"t":0.8},{"m":45,"d":3,"t":-4.2},{"m":45,"d":4,"t":-1.7},{"m":45,"d":5,"t":-1.3},{"m":45,"d":6,"t":1.7},{"m":45,"d":7,"t":2.9},{"m":45,"d":8,"t":2.0},{"m":45,"d":9,"t":-1.7},{"m":45,"d":10,"t":0.4},{"m":45,"d":11,"t":1.7},{"m":45,"d":12,"t":2.7},{"m":45,"d":13,"t":5.5},{"m":45,"d":14,"t":6.8},{"m":45,"d":15,"t":5.4},{"m":45,"d":16,"t":8.0},{"m":45,"d":17,"t":10.2},{"m":45,"d":18,"t":7.8},{"m":45,"d":19,"t":8.0},{"m":45,"d":20,"t":6.5},{"m":45,"d":21,"t":3.0},{"m":45,"d":22,"t":4.8},{"m":45,"d":23,"t":1.6},{"m":45,"d":24,"t":3.7},{"m":45,"d":25,"t":6.0},{"m":45,"d":26,"t":2.8},{"m":45,"d":27,"t":0.6},{"m":45,"d":28,"t":3.9},{"m":45,"d":29,"t":2.0},{"m":45,"d":30,"t":4.8},{"m":45,"d":31,"t":2.4},
{"m":46,"d":1,"t":5.8},{"m":46,"d":2,"t":0.8},{"m":46,"d":3,"t":-4.2},{"m":46,"d":4,"t":-1.5},{"m":46,"d":5,"t":-1.1},{"m":46,"d":6,"t":1.8},{"m":46,"d":7,"t":3.0},{"m":46,"d":8,"t":2.2},{"m":46,"d":9,"t":-1.7},{"m":46,"d":10,"t":0.5},{"m":46,"d":11,"t":2.6},{"m":46,"d":12,"t":3.2},{"m":46,"d":13,"t":5.9},{"m":46,"d":14,"t":7.2},{"m":46,"d":15,"t":6.0},{"m":46,"d":16,"t":9.1},{"m":46,"d":17,"t":11.6},{"m":46,"d":18,"t":11.9},{"m":46,"d":19,"t":9.0},{"m":46,"d":20,"t":6.5},{"m":46,"d":21,"t":8.0},{"m":46,"d":22,"t":6.3},{"m":46,"d":23,"t":7.4},{"m":46,"d":24,"t":8.6},{"m":46,"d":25,"t":6.8},{"m":46,"d":26,"t":8.1},{"m":46,"d":27,"t":5.6},{"m":46,"d":28,"t":7.0},{"m":46,"d":29,"t":5.1},{"m":46,"d":30,"t":7.9},{"m":46,"d":31,"t":8.8},
{"m":47,"d":1,"t":5.8},{"m":47,"d":2,"t":0.8},{"m":47,"d":3,"t":-4.2},{"m":47,"d":4,"t":-2.1},{"m":47,"d":5,"t":-1.5},{"m":47,"d":6,"t":1.5},{"m":47,"d":7,"t":2.7},{"m":47,"d":8,"t":1.8},{"m":47,"d":9,"t":-1.7},{"m":47,"d":10,"t":0.3},{"m":47,"d":11,"t":0.6},{"m":47,"d":12,"t":2.1},{"m":47,"d":13,"t":5.1},{"m":47,"d":14,"t":6.3},{"m":47,"d":15,"t":4.4},{"m":47,"d":16,"t":6.6},{"m":47,"d":17,"t":2.2},{"m":47,"d":18,"t":4.4},{"m":47,"d":19,"t":1.2},{"m":47,"d":20,"t":2.4},{"m":47,"d":21,"t":5.0},{"m":47,"d":22,"t":2.0},{"m":47,"d":23,"t":3.8},{"m":47,"d":24,"t":-0.2},{"m":47,"d":25,"t":1.6},{"m":47,"d":26,"t":-1.6},{"m":47,"d":27,"t":-0.2},{"m":47,"d":28,"t":-2.8},{"m":47,"d":29,"t":0.6},{"m":47,"d":30,"t":-1.0},{"m":47,"d":31,"t":1.2},
{"m":48,"d":1,"t":5.8},{"m":48,"d":2,"t":0.8},{"m":48,"d":3,"t":-4.2},{"m":48,"d":4,"t":-1.3},{"m":48,"d":5,"t":-0.9},{"m":48,"d":6,"t":1.9},{"m":48,"d":7,"t":3.2},{"m":48,"d":8,"t":2.5},{"m":48,"d":9,"t":-1.7},{"m":48,"d":10,"t":0.7},{"m":48,"d":11,"t":3.7},{"m":48,"d":12,"t":3.8},{"m":48,"d":13,"t":6.4},{"m":48,"d":14,"t":7.6},{"m":48,"d":15,"t":6.6},{"m":48,"d":16,"t":10.1},{"m":48,"d":17,"t":11.9},{"m":48,"d":18,"t":10.8},{"m":48,"d":19,"t":9.8},{"m":48,"d":20,"t":7.8},{"m":48,"d":21,"t":8.4},{"m":48,"d":22,"t":9.4},{"m":48,"d":23,"t":5.2},{"m":48,"d":24,"t":7.0},{"m":48,"d":25,"t":8.4},{"m":48,"d":26,"t":10.0},{"m":48,"d":27,"t":8.6},{"m":48,"d":28,"t":6.6},{"m":48,"d":29,"t":5.7},{"m":48,"d":30,"t":9.7},{"m":48,"d":31,"t":6.0},
{"m":49,"d":1,"t":5.8},{"m":49,"d":2,"t":0.8},{"m":49,"d":3,"t":-4.2},{"m":49,"d":4,"t":-1.7},{"m":49,"d":5,"t":-1.3},{"m":49,"d":6,"t":1.7},{"m":49,"d":7,"t":2.9},{"m":49,"d":8,"t":2.0},{"m":49,"d":9,"t":-1.7},{"m":49,"d":10,"t":0.4},{"m":49,"d":11,"t":1.7},{"m":49,"d":12,"t":2.7},{"m":49,"d":13,"t":5.5},{"m":49,"d":14,"t":6.8},{"m":49,"d":15,"t":5.4},{"m":49,"d":16,"t":8.4},{"m":49,"d":17,"t":10.4},{"m":49,"d":18,"t":11.3},{"m":49,"d":19,"t":8.2},{"m":49,"d":20,"t":5.4},{"m":49,"d":21,"t":6.9},{"m":49,"d":22,"t":5.6},{"m":49,"d":23,"t":3.6},{"m":49,"d":24,"t":6.2},{"m":49,"d":25,"t":4.2},{"m":49,"d":26,"t":6.6},{"m":49,"d":27,"t":4.6},{"m":49,"d":28,"t":7.8},{"m":49,"d":29,"t":4.4},{"m":49,"d":30,"t":5.4},{"m":49,"d":31,"t":7.4},
{"m":50,"d":1,"t":5.8},{"m":50,"d":2,"t":0.8},{"m":50,"d":3,"t":-4.2},{"m":50,"d":4,"t":-1.5},{"m":50,"d":5,"t":-1.1},{"m":50,"d":6,"t":1.8},{"m":50,"d":7,"t":3.0},{"m":50,"d":8,"t":2.2},{"m":50,"d":9,"t":-1.7},{"m":50,"d":10,"t":0.5},{"m":50,"d":11,"t":2.6},{"m":50,"d":12,"t":3.2},{"m":50,"d":13,"t":5.9},{"m":50,"d":14,"t":7.2},{"m":50,"d":15,"t":6.0},{"m":50,"d":16,"t":9.5},{"m":50,"d":17,"t":10.9},{"m":50,"d":18,"t":9.0},{"m":50,"d":19,"t":6.0},{"m":50,"d":20,"t":4.6},{"m":50,"d":21,"t":2.6},{"m":50,"d":22,"t":4.2},{"m":50,"d":23,"t":6.0},{"m":50,"d":24,"t":2.9},{"m":50,"d":25,"t":5.0},{"m":50,"d":26,"t":4.2},{"m":50,"d":27,"t":7.0},{"m":50,"d":28,"t":3.2},{"m":50,"d":29,"t":6.6},{"m":50,"d":30,"t":3.2},{"m":50,"d":31,"t":4.8}
]},
"layer":[
{"mark":{"type":"line","color":"#8c8c8c","strokeWidth":0.9,"clip":true},
 "encoding":{
  "x":{"field":"d","type":"quantitative","scale":{"domain":[1,31],"nice":false,"zero":false},
   "axis":{"values":[1,6,11,16,21,26],"labelExpr":"datum.value == 1 ? ['1JAN','1940'] : datum.value + 'JAN'","labelFont":"Liberation Sans","labelFontStyle":"italic","labelFontWeight":"bold","labelFontSize":10,"labelColor":"#222","labelLineHeight":11,"labelPadding":1,"labelFlush":false,"tickColor":"#333","tickSize":4,"domain":false,"grid":true,"gridColor":"#bdbdbd","gridDash":[2,3],"title":"dag","titleFont":"Liberation Mono","titleFontStyle":"italic","titleFontWeight":"normal","titleFontSize":12,"titleColor":"#333","titleY":25,"titleBaseline":"alphabetic"}},
  "y":{"field":"t","type":"quantitative","scale":{"domain":[-8,14],"nice":false,"zero":false},
   "axis":{"values":[-8,-6,-4,-2,0,2,4,6,8,10,12,14],"labelFont":"Liberation Sans","labelFontStyle":"italic","labelFontWeight":"bold","labelFontSize":10,"labelColor":"#222","labelPadding":2,"tickColor":"#333","tickSize":4,"domain":false,"grid":true,"gridColor":"#bdbdbd","gridDash":[2,3],"title":"Temperatuur [Celsius]","titleFont":"Liberation Mono","titleFontStyle":"italic","titleFontWeight":"normal","titleFontSize":12,"titleColor":"#333","titlePadding":6}},
  "detail":{"field":"m"}
 }},
{"data":{"values":[{}]},
 "mark":{"type":"rule","opacity":0},
 "encoding":{"y":{"datum":0,"type":"quantitative","scale":{"domain":[-8,14],"nice":false,"zero":false},
  "axis":{"orient":"right","labels":false,"ticks":false,"domain":false,"grid":false,"title":"Illustration: KNMI","titleFont":"Liberation Sans","titleFontWeight":"normal","titleFontSize":11,"titleColor":"#222","titleAngle":270,"titleX":16,"titleY":206,"titleAlign":"center","titleBaseline":"middle"}}}}
],
"resolve":{"scale":{"y":"independent"},"axis":{"y":"independent"}}
}
